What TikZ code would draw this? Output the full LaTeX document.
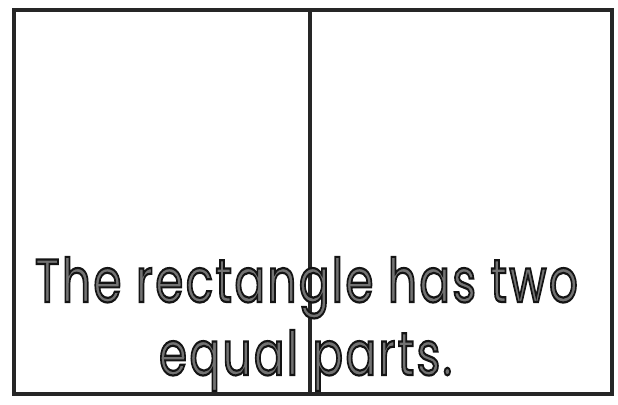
\documentclass[tikz,border=0pt]{standalone}
\usepackage{fontspec}
\setmainfont{Poppins}
\newfontfamily\phrasefamily{Poppins}[LetterSpace=5]
\newlength\LineW
\newcommand{\outlined}[1]{\special{pdf:literal direct 2 Tr 2.2 w 0.08 0.08 0.08 RG}#1\special{pdf:literal direct 0 Tr}}
\newcommand{\bigfont}{\phrasefamily\fontsize{61}{70}\selectfont}
\settowidth\LineW{\bigfont The rectangle has two}
\pgfmathsetmacro{\sx}{543/(\LineW/1pt)}
\tikzset{
  frameline/.style={draw=black!85, line width=3.6pt},
  phrase/.style={anchor=base, inner sep=0pt, text=black!55, font=\bigfont}
}
\begin{document}
\begin{tikzpicture}[x=1pt, y=-1pt]
  \useasboundingbox (0,0) rectangle (618,404);
  \coordinate (tl) at (14,10);
  \coordinate (br) at (612,394);
  \coordinate (dtop) at (310,10);
  \coordinate (dbot) at (310,394);
  \draw[frameline] (tl) rectangle (br);
  \draw[frameline, line width=3.2pt] (dtop) -- (dbot);
  \node[phrase] (line1) at (306.5,302) {\scalebox{\sx}[1]{\outlined{The rectangle has two}}};
  \node[phrase] (line2) at (305.5,375) {\scalebox{\sx}[1]{\outlined{equal parts.}}};
\end{tikzpicture}
\end{document}
